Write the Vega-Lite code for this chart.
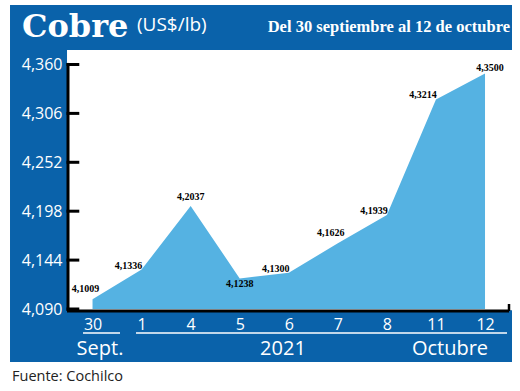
{
  "$schema": "https://vega.github.io/schema/vega-lite/v6.json",
  "width": 444,
  "height": 259,
  "autosize": {"type": "none"},
  "padding": {"left": 68, "top": 50, "right": 8, "bottom": 82},
  "background": "white",
  "config": {
    "view": {"stroke": null},
    "locale": {"number": {"decimal": ",", "thousands": ".", "grouping": [3], "currency": ["$", ""]}}
  },
  "data": {
    "values": [
      {"i": 0, "dia": "30", "precio": 4.1009},
      {"i": 1, "dia": "1", "precio": 4.1336},
      {"i": 2, "dia": "4", "precio": 4.2037},
      {"i": 3, "dia": "5", "precio": 4.1238},
      {"i": 4, "dia": "6", "precio": 4.1300},
      {"i": 5, "dia": "7", "precio": 4.1626},
      {"i": 6, "dia": "8", "precio": 4.1939},
      {"i": 7, "dia": "11", "precio": 4.3214},
      {"i": 8, "dia": "12", "precio": 4.3500}
    ]
  },
  "layer": [
    {
      "data": {"values": [{}]},
      "mark": {"type": "rect", "color": "#0a62aa"},
      "encoding": {
        "x": {"datum": -1.682, "type": "quantitative", "scale": {"domain": [-0.5, 8.55], "nice": false, "zero": false}},
        "x2": {"datum": 8.55},
        "y": {"datum": 4.0315, "type": "quantitative", "scale": {"domain": [4.09, 4.376], "nice": false, "zero": false}},
        "y2": {"datum": 4.4257}
      }
    },
    {
      "data": {"values": [{}]},
      "mark": {"type": "rect", "color": "white"},
      "encoding": {
        "x": {"datum": -0.52, "type": "quantitative"},
        "x2": {"datum": 8.55},
        "y": {"datum": 4.0885, "type": "quantitative"},
        "y2": {"datum": 4.376}
      }
    },
    {
      "data": {"values": [{}]},
      "mark": {"type": "rule", "color": "black", "strokeWidth": 3},
      "encoding": {
        "x": {"datum": -0.52, "type": "quantitative"},
        "x2": {"datum": 8.489},
        "y": {"datum": 4.0878, "type": "quantitative"}
      }
    },
    {
      "data": {"values": [{}]},
      "mark": {"type": "rule", "color": "black", "strokeWidth": 2.5},
      "encoding": {
        "x": {"datum": 8.489, "type": "quantitative"},
        "y": {"datum": 4.0878, "type": "quantitative"},
        "y2": {"datum": 4.0955}
      }
    },
    {
      "mark": {"type": "area", "color": "#55b2e2", "opacity": 1},
      "encoding": {
        "x": {
          "field": "i", "type": "quantitative",
          "scale": {"domain": [-0.5, 8.55], "nice": false, "zero": false},
          "axis": {
            "values": [0, 1, 2, 3, 4, 5, 6, 7, 8],
            "labelExpr": "['30','1','4','5','6','7','8','11','12'][datum.value]",
            "title": null, "ticks": false, "domain": false, "grid": false,
            "labelColor": "white", "labelFont": "Open Sans", "labelFontSize": 16,
            "labelPadding": 7, "labelFlush": false, "labelOverlap": false, "zindex": 1
          }
        },
        "y": {
          "field": "precio", "type": "quantitative",
          "scale": {"domain": [4.09, 4.376], "nice": false, "zero": false},
          "axis": {
            "values": [4.09, 4.144, 4.198, 4.252, 4.306, 4.36],
            "format": ".3f", "title": null, "grid": false, "domain": false,
            "ticks": false, "labelPadding": 6,
            "labelColor": "white", "labelFont": "Open Sans", "labelFontSize": 16,
            "labelOverlap": false, "zindex": 1
          }
        },
        "y2": {"datum": 4.09}
      }
    },
    {
      "data": {"values": [{}]},
      "mark": {"type": "rule", "color": "black", "strokeWidth": 3},
      "encoding": {
        "x": {"datum": -0.5, "type": "quantitative"},
        "y": {"datum": 4.0878, "type": "quantitative"},
        "y2": {"datum": 4.3617}
      }
    },
    {
      "data": {"values": [{"tick": 4.09}, {"tick": 4.144}, {"tick": 4.198}, {"tick": 4.252}, {"tick": 4.306}, {"tick": 4.36}]},
      "mark": {"type": "rule", "color": "black", "strokeWidth": 3},
      "encoding": {
        "x": {"datum": -0.53, "type": "quantitative"},
        "x2": {"datum": -0.27},
        "y": {"field": "tick", "type": "quantitative"}
      }
    },
    {
      "transform": [{"filter": {"field": "dia", "oneOf": ["1", "6", "8", "11"]}}],
      "mark": {"type": "text", "font": "Liberation Serif", "fontWeight": "bold", "fontSize": 10, "color": "#000000", "dx": -13, "dy": -4, "baseline": "middle"},
      "encoding": {
        "x": {"field": "i", "type": "quantitative"},
        "y": {"field": "precio", "type": "quantitative"},
        "text": {"field": "precio", "type": "quantitative", "format": ".4f"}
      }
    },
    {
      "transform": [{"filter": {"field": "dia", "oneOf": ["30", "7"]}}],
      "mark": {"type": "text", "font": "Liberation Serif", "fontWeight": "bold", "fontSize": 10, "color": "#000000", "dx": -7, "dy": -10, "baseline": "middle"},
      "encoding": {
        "x": {"field": "i", "type": "quantitative"},
        "y": {"field": "precio", "type": "quantitative"},
        "text": {"field": "precio", "type": "quantitative", "format": ".4f"}
      }
    },
    {
      "transform": [{"filter": {"field": "dia", "oneOf": ["4"]}}],
      "mark": {"type": "text", "font": "Liberation Serif", "fontWeight": "bold", "fontSize": 10, "color": "#000000", "dx": 0, "dy": -9, "baseline": "middle"},
      "encoding": {
        "x": {"field": "i", "type": "quantitative"},
        "y": {"field": "precio", "type": "quantitative"},
        "text": {"field": "precio", "type": "quantitative", "format": ".4f"}
      }
    },
    {
      "transform": [{"filter": {"field": "dia", "oneOf": ["5"]}}],
      "mark": {"type": "text", "font": "Liberation Serif", "fontWeight": "bold", "fontSize": 10, "color": "#000000", "dx": 0, "dy": 6, "baseline": "middle"},
      "encoding": {
        "x": {"field": "i", "type": "quantitative"},
        "y": {"field": "precio", "type": "quantitative"},
        "text": {"field": "precio", "type": "quantitative", "format": ".4f"}
      }
    },
    {
      "transform": [{"filter": {"field": "dia", "oneOf": ["12"]}}],
      "mark": {"type": "text", "font": "Liberation Serif", "fontWeight": "bold", "fontSize": 10, "color": "#000000", "dx": 5, "dy": -6, "baseline": "middle"},
      "encoding": {
        "x": {"field": "i", "type": "quantitative"},
        "y": {"field": "precio", "type": "quantitative"},
        "text": {"field": "precio", "type": "quantitative", "format": ".4f"}
      }
    },
    {
      "data": {"values": [{}]},
      "mark": {"type": "rule", "color": "white", "strokeWidth": 1.5},
      "encoding": {
        "x": {"datum": -0.194, "type": "quantitative"},
        "x2": {"datum": 0.56},
        "y": {"datum": 4.0635, "type": "quantitative"}
      }
    },
    {
      "data": {"values": [{}]},
      "mark": {"type": "rule", "color": "white", "strokeWidth": 1.5},
      "encoding": {
        "x": {"datum": 0.886, "type": "quantitative"},
        "x2": {"datum": 8.448},
        "y": {"datum": 4.0635, "type": "quantitative"}
      }
    },
    {
      "data": {"values": [{}]},
      "mark": {"type": "text", "text": "Sept.", "font": "Open Sans", "fontSize": 20, "color": "white", "align": "center", "baseline": "alphabetic"},
      "encoding": {
        "x": {"datum": 0.152, "type": "quantitative"},
        "y": {"datum": 4.0392, "type": "quantitative"}
      }
    },
    {
      "data": {"values": [{}]},
      "mark": {"type": "text", "text": "2021", "font": "Open Sans", "fontSize": 20, "color": "white", "align": "center", "baseline": "alphabetic"},
      "encoding": {
        "x": {"datum": 3.882, "type": "quantitative"},
        "y": {"datum": 4.0392, "type": "quantitative"}
      }
    },
    {
      "data": {"values": [{}]},
      "mark": {"type": "text", "text": "Octubre", "font": "Open Sans", "fontSize": 20, "color": "white", "align": "center", "baseline": "alphabetic"},
      "encoding": {
        "x": {"datum": 7.286, "type": "quantitative"},
        "y": {"datum": 4.0392, "type": "quantitative"}
      }
    },
    {
      "data": {"values": [{}]},
      "mark": {"type": "text", "text": "Cobre", "font": "DejaVu Serif", "fontWeight": "bold", "fontSize": 32, "color": "white", "align": "left", "baseline": "alphabetic"},
      "encoding": {
        "x": {"datum": -1.4376, "type": "quantitative"},
        "y": {"datum": 4.3904, "type": "quantitative"}
      }
    },
    {
      "data": {"values": [{}]},
      "mark": {"type": "text", "text": "(US$/lb)", "font": "Open Sans", "fontSize": 19, "color": "white", "align": "left", "baseline": "alphabetic"},
      "encoding": {
        "x": {"datum": 0.9064, "type": "quantitative"},
        "y": {"datum": 4.397, "type": "quantitative"}
      }
    },
    {
      "data": {"values": [{}]},
      "mark": {"type": "text", "text": "Del 30 septiembre al 12 de octubre", "font": "Liberation Serif", "fontWeight": "bold", "fontSize": 16.5, "color": "white", "align": "right", "baseline": "alphabetic"},
      "encoding": {
        "x": {"datum": 8.509, "type": "quantitative"},
        "y": {"datum": 4.3962, "type": "quantitative"}
      }
    },
    {
      "data": {"values": [{}]},
      "mark": {"type": "text", "text": "Fuente: Cochilco", "font": "Open Sans", "fontSize": 14.5, "color": "#222222", "align": "left", "baseline": "alphabetic"},
      "encoding": {
        "x": {"datum": -1.6414, "type": "quantitative"},
        "y": {"datum": 4.0105, "type": "quantitative"}
      }
    }
  ]
}
